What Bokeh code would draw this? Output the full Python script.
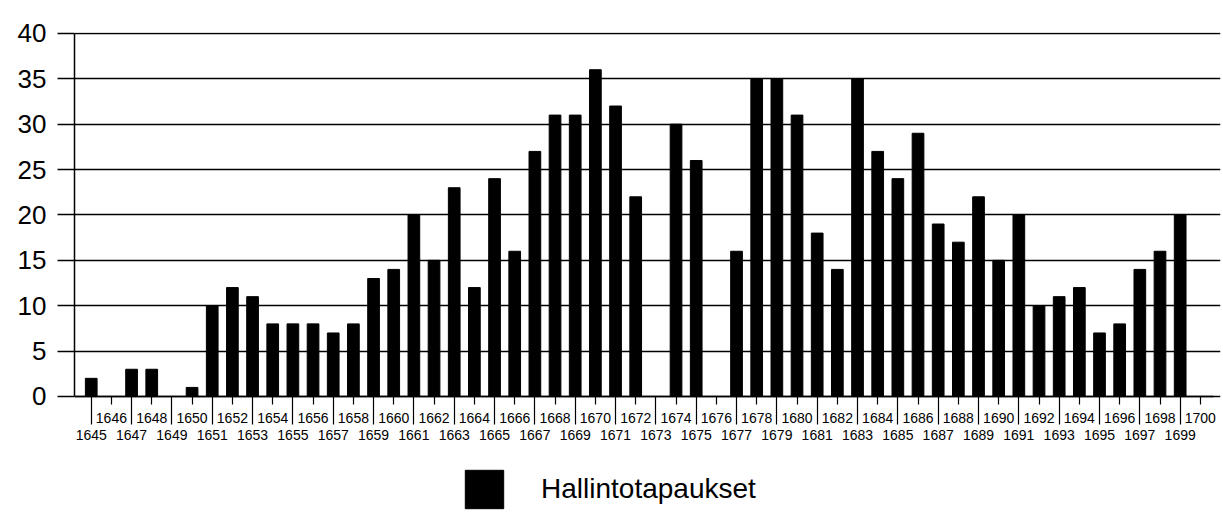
from bokeh.plotting import figure
from bokeh.models import Range1d, FixedTicker, LinearAxis, Legend, LegendItem
from bokeh.embed import file_html
from bokeh.resources import INLINE

years = list(range(1645, 1701))
cases = [2, 0, 3, 3, 0, 1,
         10, 12, 11, 8, 8, 8, 7, 8, 13, 14,
         20, 15, 23, 12, 24, 16, 27, 31, 31, 36,
         32, 22, 0, 30, 26, 0, 16, 35, 35, 31,
         18, 14, 35, 27, 24, 29, 19, 17, 22, 15,
         20, 10, 11, 12, 7, 8, 14, 16, 20, 0]
y_ticks = [0, 5, 10, 15, 20, 25, 30, 35, 40]
even_years = years[1::2]
odd_years = years[0::2]
series_name = "Hallintotapaukset"

FONT = "Liberation Sans"

# frame spans the whole lower area; value 0 sits at y=396 px
p = figure(width=1223, height=513,
           x_range=Range1d(1644.17, 1701.0), y_range=Range1d(-12.89, 40.1),
           x_axis_type=None,
           output_backend="svg", toolbar_location=None,
           min_border_left=74, min_border_right=3,
           min_border_top=32, min_border_bottom=0)
p.outline_line_color = None
p.background_fill_color = "white"

bars = p.vbar(x=years, top=cases, width=0.58, fill_color="black", line_color="black")

# y axis
ya = p.yaxis[0]
ya.ticker = FixedTicker(ticks=y_ticks)
ya.bounds = (0, 40)
ya.major_tick_out = 17
ya.major_tick_in = 0
ya.minor_tick_line_color = None
ya.axis_line_color = "black"
ya.axis_line_width = 1.5
ya.major_tick_line_color = "black"
ya.major_tick_line_width = 1.5
ya.major_label_standoff = 11
ya.major_label_text_font = FONT
ya.major_label_text_font_size = "26px"
ya.major_label_text_color = "black"

p.ygrid.ticker = FixedTicker(ticks=y_ticks)
p.ygrid.grid_line_color = "black"
p.ygrid.grid_line_width = 1.6
p.ygrid.grid_line_alpha = 1.0

# x axis: even years upper row (short ticks), odd years lower row (long ticks)
ax1 = LinearAxis(ticker=FixedTicker(ticks=even_years), fixed_location=0)
ax1.bounds = (1644.17, 1700.65)
ax1.major_tick_out = 8
ax1.major_tick_in = 0
ax1.minor_tick_line_color = None
ax1.major_tick_line_color = "black"
ax1.major_tick_line_width = 1.2
ax1.axis_line_color = "black"
ax1.axis_line_width = 1.6
ax1.major_label_standoff = 9
ax1.major_label_text_font = FONT
ax1.major_label_text_font_size = "14px"
ax1.major_label_text_color = "black"

ax2 = LinearAxis(ticker=FixedTicker(ticks=odd_years), fixed_location=0)
ax2.axis_line_color = None
ax2.major_tick_line_color = "black"
ax2.major_tick_line_width = 1.2
ax2.minor_tick_line_color = None
ax2.major_tick_out = 28
ax2.major_tick_in = 0
ax2.major_label_standoff = 6
ax2.major_label_text_font = FONT
ax2.major_label_text_font_size = "14px"
ax2.major_label_text_color = "black"

p.add_layout(ax1, "below")
p.add_layout(ax2, "below")

legend = Legend(items=[LegendItem(label=series_name, renderers=[bars])],
                location=(386, 0),
                glyph_width=48, glyph_height=48, label_height=48,
                label_standoff=33, padding=0, margin=0,
                border_line_color=None, background_fill_alpha=0,
                label_text_font=FONT, label_text_font_size="28px",
                label_text_color="black")
p.add_layout(legend)

open("out.html", "w").write(file_html(p, INLINE))
